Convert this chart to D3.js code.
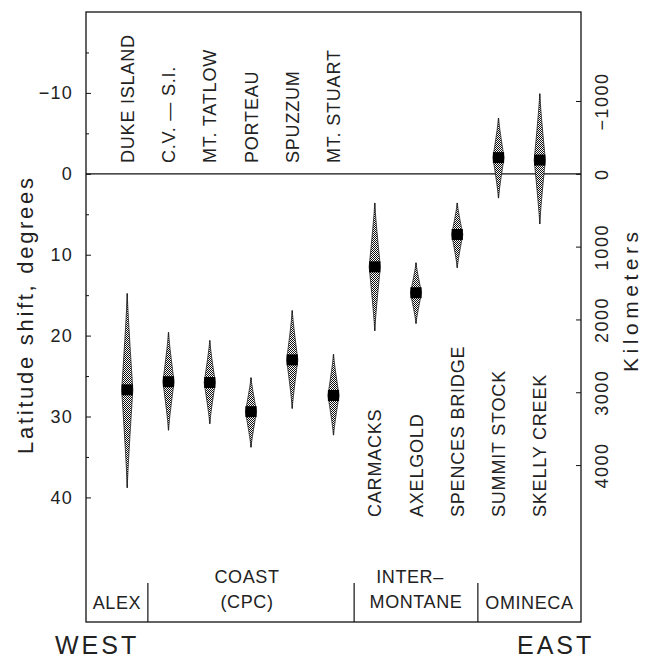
<!DOCTYPE html>
<html>
  <head>
    <meta charset="utf-8">
    <style>
      body { margin: 0; background: #fff; }
      svg { display: block; }
      text { font-family: "Liberation Sans", Arial, sans-serif; fill: #222; }
    </style>
    <script src="https://d3js.org/d3.v7.min.js"></script>
  </head>
  <body>
    <svg></svg>
    <script>
    // samples, west to east
    var samples = ["DUKE ISLAND", "C.V. \u2014 S.I.", "MT. TATLOW", "PORTEAU", "SPUZZUM", "MT. STUART",
                   "CARMACKS", "AXELGOLD", "SPENCES BRIDGE", "SUMMIT STOCK", "SKELLY CREEK"];
    // latitude shift (degrees): best estimate and the two ends of each spindle
    var shiftMedian = [26.7, 25.7, 25.8, 29.4, 23.0, 27.4, 11.5, 14.7, 7.5, -2.0, -1.7];
    var shiftTop    = [14.8, 19.6, 20.6, 25.2, 16.9, 22.3, 3.6, 11.0, 3.6, -6.9, -9.9];
    var shiftBottom = [38.8, 31.7, 30.9, 33.8, 29.0, 32.3, 19.4, 18.5, 11.6, 3.0, 6.2];
    // names written above the zero line (the rest go below)
    var labelsAbove = ["DUKE ISLAND", "C.V. \u2014 S.I.", "MT. TATLOW", "PORTEAU", "SPUZZUM", "MT. STUART"];

    var terraneLines = [["ALEX"], ["COAST", "(CPC)"], ["INTER\u2013", "MONTANE"], ["OMINECA"]];
    var terraneCounts = [1, 5, 3, 2];

    var degTicks = [-10, 0, 10, 20, 30, 40];
    var degMinor = [-15, -5, 5, 15, 25, 35];
    var kmTicks = [-1000, 0, 1000, 2000, 3000, 4000];
    var kmPerDegree = 111.1;

    var width = 649, height = 659;
    var plotL = 86, plotR = 581, plotT = 12, plotB = 622;

    var svg = d3.select("svg")
        .attr("width", width)
        .attr("height", height);

    var defs = svg.append("defs");
    var pat = defs.append("pattern")
        .attr("id", "stipple")
        .attr("width", 2).attr("height", 2)
        .attr("patternUnits", "userSpaceOnUse");
    pat.append("rect").attr("width", 2).attr("height", 2).attr("fill", "#fff");
    pat.append("rect").attr("width", 1).attr("height", 1).attr("fill", "#111");
    pat.append("rect").attr("x", 1).attr("y", 1).attr("width", 1).attr("height", 1).attr("fill", "#111");

    var y = d3.scaleLinear().domain([-20, 55.4]).range([plotT, plotB]);
    var yKm = d3.scaleLinear()
        .domain([-20 * kmPerDegree, 55.4 * kmPerDegree])
        .range([plotT, plotB]);
    var x = d3.scalePoint().domain(samples).range([plotL, plotR]).padding(1);

    // frame
    svg.append("rect")
        .attr("x", plotL).attr("y", plotT)
        .attr("width", plotR - plotL).attr("height", plotB - plotT)
        .attr("fill", "none")
        .attr("stroke", "#111")
        .attr("stroke-width", 1.3);

    // zero line
    svg.append("line")
        .attr("x1", plotL).attr("x2", plotR)
        .attr("y1", y(0)).attr("y2", y(0))
        .attr("stroke", "#111")
        .attr("stroke-width", 1.2);

    // left axis (degrees)
    var gl = svg.append("g").attr("transform", "translate(" + plotL + ",0)");
    gl.call(d3.axisLeft(y).tickValues(degTicks).tickSize(-5).tickPadding(13));
    gl.append("g").call(d3.axisLeft(y).tickValues(degMinor).tickSize(-3).tickFormat(""));
    gl.attr("font-family", null).attr("font-size", null);
    gl.selectAll(".domain").remove();
    gl.selectAll("g").attr("font-family", null).attr("font-size", null);
    gl.selectAll("text")
        .attr("fill", "#222")
        .style("font-size", "18px")
        .style("letter-spacing", "1.2px");
    gl.selectAll("line").attr("stroke", "#111");

    // right axis (kilometers)
    var gr = svg.append("g").attr("transform", "translate(" + plotR + ",0)");
    gr.call(d3.axisRight(yKm).tickValues(kmTicks).tickSize(-5).tickFormat(d3.format("d")));
    gr.attr("font-family", null).attr("font-size", null);
    gr.selectAll(".domain").remove();
    gr.selectAll("line").attr("stroke", "#111");
    gr.selectAll("text")
        .attr("x", 0).attr("dy", null)
        .attr("transform", "translate(27,0) rotate(-90)")
        .attr("text-anchor", "middle")
        .attr("fill", "#222")
        .style("font-size", "18px")
        .style("letter-spacing", "1.5px");

    // axis titles
    svg.append("text")
        .attr("transform", "translate(33,316) rotate(-90)")
        .attr("text-anchor", "middle")
        .attr("textLength", 276)
        .attr("lengthAdjust", "spacing")
        .style("font-size", "22px")
        .text("Latitude shift, degrees");

    svg.append("text")
        .attr("transform", "translate(638,302) rotate(-90)")
        .attr("text-anchor", "middle")
        .attr("textLength", 140)
        .attr("lengthAdjust", "spacing")
        .style("font-size", "21px")
        .text("Kilometers");

    // spindles
    var halfW = 5.6;
    var profile = d3.range(0, 1.0001, 0.05);
    var spindle = d3.line().x(function(p) { return p[0]; }).y(function(p) { return p[1]; });
    function hw(t) { return halfW * Math.pow(1 - t, 1.15); }

    samples.forEach(function(name, i) {
        var cx = x(name);
        var ym = y(shiftMedian[i]), yt = y(shiftTop[i]), yb = y(shiftBottom[i]);
        var pts = [];
        profile.forEach(function(t) { pts.push([cx + hw(t), ym + (yt - ym) * t]); });
        profile.slice().reverse().forEach(function(t) { pts.push([cx - hw(t), ym + (yt - ym) * t]); });
        profile.forEach(function(t) { pts.push([cx - hw(t), ym + (yb - ym) * t]); });
        profile.slice().reverse().forEach(function(t) { pts.push([cx + hw(t), ym + (yb - ym) * t]); });
        var g = svg.append("g").attr("class", "spindle");
        g.append("line")
            .attr("x1", cx).attr("x2", cx)
            .attr("y1", yt).attr("y2", yb)
            .attr("stroke", "#111")
            .attr("stroke-width", 1.2);
        g.append("path")
            .attr("d", spindle(pts) + "Z")
            .attr("fill", "url(#stipple)")
            .attr("stroke", "#222")
            .attr("stroke-width", 0.8);
        g.append("rect")
            .attr("x", cx - halfW).attr("y", ym - 5.5)
            .attr("width", 2 * halfW).attr("height", 11)
            .attr("fill", "#000");
    });

    // sample names
    svg.selectAll("text.sample")
      .data(samples)
      .enter().append("text")
        .attr("class", "sample")
        .attr("transform", function(d) {
            var above = labelsAbove.indexOf(d) >= 0;
            return "translate(" + (x(d) + 6.5) + "," + (above ? 163 : 517) + ") rotate(-90)";
        })
        .attr("text-anchor", "start")
        .style("font-size", "18px")
        .style("letter-spacing", "0.8px")
        .text(function(d) { return d; });

    // terrane boxes along the bottom
    var boxTop = 583;
    var idx = 0;
    terraneCounts.forEach(function(n, k) {
        var first = samples[idx], last = samples[idx + n - 1];
        var x0 = k === 0 ? plotL : (x(first) - x.step() / 2);
        var x1 = k === terraneCounts.length - 1 ? plotR : (x(last) + x.step() / 2);
        if (k > 0) {
            svg.append("line")
                .attr("x1", x0).attr("x2", x0)
                .attr("y1", boxTop).attr("y2", plotB)
                .attr("stroke", "#111")
                .attr("stroke-width", 1.2);
        }
        var lines = terraneLines[k];
        var cx = (x0 + x1) / 2;
        lines.forEach(function(s, j) {
            var by = lines.length === 1 ? 609 : (j === 0 ? 583 : 608);
            svg.append("text")
                .attr("x", cx - (s === "INTER\u2013" ? 6 : 0) - (s === "COAST" || s === "(CPC)" ? 4 : 0))
                .attr("y", by)
                .attr("text-anchor", "middle")
                .style("font-size", "18px")
                .style("letter-spacing", "0.6px")
                .text(s);
        });
        idx += n;
    });

    // direction labels
    svg.append("text")
        .attr("x", 55).attr("y", 654)
        .style("font-size", "25px")
        .style("letter-spacing", "3px")
        .text("WEST");
    svg.append("text")
        .attr("x", 517).attr("y", 654)
        .style("font-size", "25px")
        .style("letter-spacing", "3px")
        .text("EAST");
    </script>
  </body>
</html>
